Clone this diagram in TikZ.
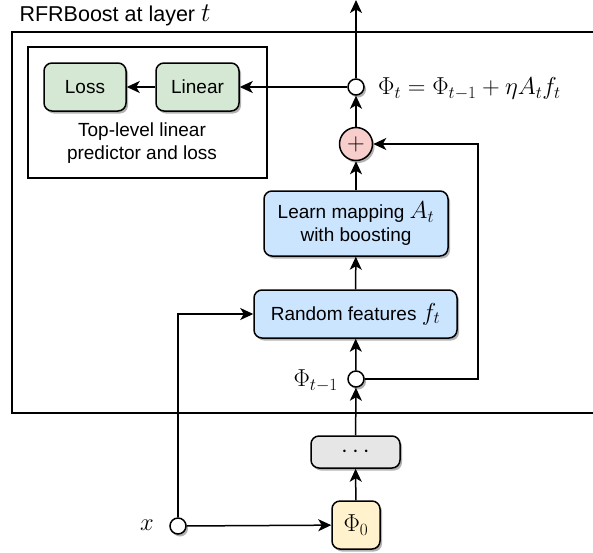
\RequirePackage{fix-cm}
\documentclass[tikz,border=0pt]{standalone}
\usepackage{fontspec}
\setmainfont{Liberation Sans}
\DeclareMathSizes{19}{24.5}{17.2}{12.5}
\DeclareMathSizes{21.5}{27}{19}{13.5}
\usetikzlibrary{arrows.meta,shadows}
\definecolor{cgreen}{HTML}{D5E8D4}
\definecolor{cblue}{HTML}{CCE5FF}
\definecolor{cred}{HTML}{F8CECC}
\definecolor{cyellow}{HTML}{FFF2CC}
\definecolor{cgray}{HTML}{E6E6E6}
\tikzset{
  every picture/.style={x=1pt,y=-1pt},
  ln/.style={line width=1.5pt},
  arr/.style={ln,-{Stealth[length=13pt,width=12pt,inset=3.5pt]}},
  shd/.style={drop shadow={shadow xshift=2pt,shadow yshift=-2.5pt,opacity=0.3,fill=black}},
  box/.style={draw,ln,rounded corners=8pt,shd,align=center,inner sep=0pt,font=\fontsize{19}{23}\selectfont},
  dot/.style={draw,ln,circle,fill=white,minimum size=16pt,inner sep=0pt,shd},
  lbl/.style={font=\fontsize{19}{23}\selectfont},
}
\begin{document}
\begin{tikzpicture}
\useasboundingbox (0,0) rectangle (593,552);
% outer frame
\draw[ln] (593,32) -- (12,32) -- (12,413) -- (593,413);
\node[lbl,anchor=base west,font=\fontsize{21.5}{25}\selectfont] (title) at (16,21) {RFRBoost at layer $t$};
% inner box
\draw[ln] (28,47) rectangle (267,178);
\node[box,fill=cgreen,minimum width=82pt,minimum height=48pt] (loss) at (85,87) {Loss};
\node[box,fill=cgreen,minimum width=83pt,minimum height=48pt] (linear) at (197.5,87) {Linear};
\node[lbl,align=center] (cap) at (142,143) {Top-level linear\\predictor and loss};
% main column
\node[dot] (out) at (356,87) {};
\coordinate (top) at (356,0);
\node[lbl,anchor=west,inner sep=0pt] (eq) at (378,89) {$\Phi_t=\Phi_{t-1}+\eta A_t f_t$};
\node[draw,ln,circle,fill=cred,minimum size=33pt,inner sep=0pt,shd,font=\fontsize{19}{23}\selectfont] (plus) at (356,144) {$+$};
\node[box,fill=cblue,minimum width=184pt,minimum height=65pt] (learn) at (356,223.5) {Learn mapping $A_t$\\with boosting};
\node[box,fill=cblue,minimum width=203pt,minimum height=48pt] (rand) at (355.5,314) {Random features $f_t$};
\node[dot] (prev) at (356,379) {};
\node[lbl,anchor=east,inner sep=0pt] (prevl) at (338,381) {$\Phi_{t-1}$};
\coordinate (loop) at (478,144);
\node[box,fill=cgray,minimum width=89pt,minimum height=32pt] (dots) at (355.5,452) {$\cdots$};
\node[box,fill=cyellow,minimum width=48pt,minimum height=48pt] (phi0) at (356,525) {$\Phi_0$};
\node[dot] (xin) at (178,526) {};
\node[lbl] (xl) at (147,525) {$x$};
% connectors
\draw[arr] (out) -- (top);
\draw[arr] (out) -- (linear);
\draw[arr] (linear) -- (loss);
\draw[arr] (plus) -- (out);
\draw[arr] (learn) -- (plus);
\draw[arr] (rand) -- (learn);
\draw[arr] (prev) -- (rand);
\draw[arr] (prev) -| (loop) -- (plus);
\draw[arr] (dots) -- (prev);
\draw[arr] (phi0) -- (dots);
\draw[arr] (xin) -- (phi0);
\draw[arr] (xin) |- (rand);
\end{tikzpicture}
\end{document}
